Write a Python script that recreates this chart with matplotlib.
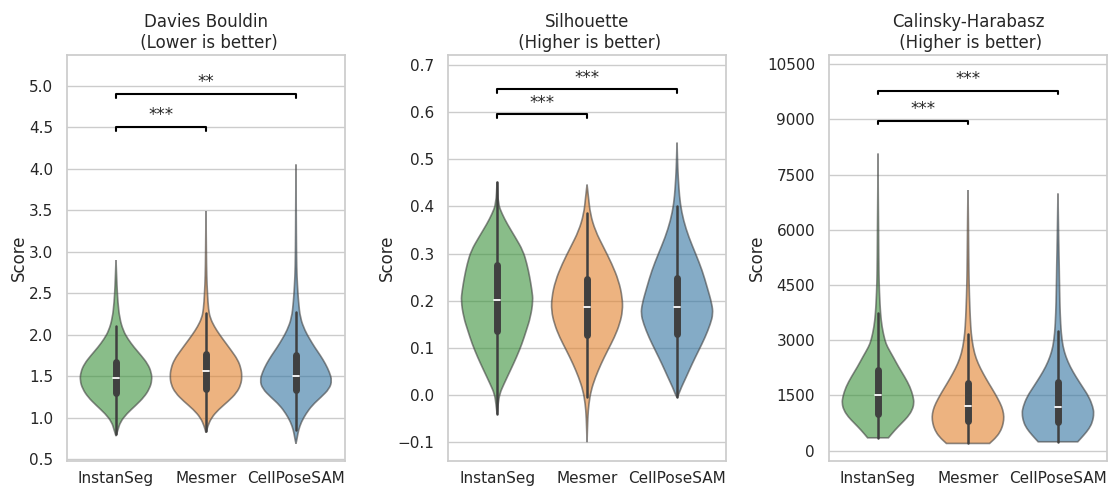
import numpy as np
import matplotlib.pyplot as plt
from matplotlib.path import Path
from matplotlib.patches import PathPatch
import seaborn as sns

sns.set_theme(style="whitegrid")
plt.rcParams["font.family"] = ["DejaVu Sans"]

methods = ["InstanSeg", "Mesmer", "CellPoseSAM"]
colors = ["#3a923a", "#e1812c", "#3274a1"]

# violin outlines: score levels and relative half-width (1 = widest point)
db_instanseg_y = [0.78, 0.85, 0.95, 1.05, 1.15, 1.25, 1.35, 1.45, 1.55, 1.65, 1.75, 1.85, 1.95, 2.05, 2.2, 2.4, 2.6, 2.9]
db_instanseg_w = [0.0, 0.05, 0.12, 0.30, 0.55, 0.78, 0.93, 1.0, 0.98, 0.88, 0.70, 0.50, 0.33, 0.20, 0.10, 0.05, 0.025, 0.0]
db_mesmer_y = [0.82, 0.9, 1.0, 1.1, 1.2, 1.3, 1.4, 1.5, 1.6, 1.7, 1.8, 1.9, 2.0, 2.1, 2.2, 2.3, 2.5, 2.7, 3.0, 3.49]
db_mesmer_w = [0.0, 0.05, 0.15, 0.35, 0.62, 0.85, 0.97, 1.0, 0.97, 0.88, 0.72, 0.55, 0.38, 0.23, 0.12, 0.07, 0.04, 0.02, 0.01, 0.0]
db_cellpose_y = [0.69, 0.75, 0.85, 0.95, 1.05, 1.15, 1.25, 1.35, 1.45, 1.55, 1.65, 1.75, 1.85, 1.95, 2.05, 2.2, 2.4, 2.6, 2.8, 3.2, 4.05]
db_cellpose_w = [0.0, 0.03, 0.07, 0.15, 0.28, 0.45, 0.70, 0.93, 1.0, 0.93, 0.82, 0.68, 0.52, 0.38, 0.25, 0.12, 0.07, 0.04, 0.02, 0.01, 0.0]

sil_instanseg_y = [-0.04, -0.019, 0.002, 0.023, 0.052, 0.08, 0.108, 0.136, 0.165, 0.2, 0.221, 0.249, 0.278, 0.306, 0.334, 0.363, 0.384, 0.405, 0.452]
sil_instanseg_w = [0.0, 0.03, 0.07, 0.19, 0.37, 0.54, 0.69, 0.81, 0.93, 1.0, 0.97, 0.91, 0.83, 0.72, 0.51, 0.28, 0.14, 0.03, 0.0]
sil_mesmer_y = [-0.1, -0.047, -0.019, 0.009, 0.037, 0.066, 0.094, 0.122, 0.151, 0.179, 0.207, 0.242, 0.278, 0.313, 0.348, 0.384, 0.419, 0.446]
sil_mesmer_w = [0.0, 0.02, 0.05, 0.11, 0.23, 0.39, 0.57, 0.76, 0.91, 0.99, 0.98, 0.88, 0.69, 0.46, 0.23, 0.09, 0.04, 0.0]
sil_cellpose_y = [-0.005, 0.002, 0.016, 0.037, 0.066, 0.094, 0.122, 0.151, 0.172, 0.193, 0.228, 0.264, 0.299, 0.334, 0.37, 0.405, 0.44, 0.48, 0.535]
sil_cellpose_w = [0.0, 0.05, 0.12, 0.25, 0.42, 0.60, 0.78, 0.93, 1.0, 0.97, 0.84, 0.70, 0.52, 0.33, 0.18, 0.09, 0.05, 0.02, 0.0]

ch_instanseg_y = [350, 559, 740, 921, 1102, 1283, 1464, 1735, 2007, 2278, 2550, 2821, 3000, 3364, 3726, 4088, 4541, 5265, 6170, 7075, 8070]
ch_instanseg_w = [0.29, 0.47, 0.65, 0.83, 0.95, 1.0, 0.98, 0.89, 0.74, 0.57, 0.42, 0.26, 0.19, 0.11, 0.07, 0.05, 0.03, 0.02, 0.014, 0.005, 0.0]
ch_mesmer_y = [197, 378, 559, 740, 921, 1102, 1283, 1554, 1826, 2097, 2369, 2640, 3002, 3364, 3907, 4541, 5265, 6170, 7075]
ch_mesmer_w = [0.60, 0.80, 0.92, 0.98, 1.0, 0.97, 0.90, 0.75, 0.58, 0.42, 0.28, 0.18, 0.11, 0.075, 0.05, 0.03, 0.02, 0.012, 0.0]
ch_cellpose_y = [242, 423, 604, 785, 1011, 1192, 1464, 1735, 2007, 2278, 2550, 2821, 3183, 3726, 4360, 4993, 5717, 6351, 6984]
ch_cellpose_w = [0.55, 0.72, 0.87, 0.96, 1.0, 0.97, 0.86, 0.68, 0.50, 0.34, 0.22, 0.14, 0.09, 0.06, 0.045, 0.035, 0.02, 0.01, 0.0]

# box summary: lower whisker, q1, median, q3, upper whisker
db_box = [[0.80, 1.30, 1.48, 1.67, 2.11],
          [0.84, 1.35, 1.56, 1.77, 2.26],
          [0.85, 1.33, 1.50, 1.76, 2.27]]
sil_box = [[-0.04, 0.135, 0.201, 0.276, 0.452],
           [-0.005, 0.127, 0.186, 0.246, 0.385],
           [-0.005, 0.129, 0.186, 0.248, 0.401]]
ch_box = [[350, 993, 1500, 2188, 3753],
          [197, 812, 1219, 1826, 3183],
          [242, 785, 1192, 1862, 3247]]

# significance brackets: (group a, group b, height, stars)
db_sig = [(0, 1, 4.5, "***"), (0, 2, 4.9, "**")]
sil_sig = [(0, 1, 0.595, "***"), (0, 2, 0.648, "***")]
ch_sig = [(0, 1, 8962, "***"), (0, 2, 9776, "***")]

titles = ["Davies Bouldin\n (Lower is better)",
          "Silhouette\n (Higher is better)",
          "Calinsky-Harabasz\n (Higher is better)"]
ylims = [(0.48, 5.37), (-0.14, 0.721), (-280, 10750)]
yticks = [np.arange(0.5, 5.01, 0.5), np.arange(-0.1, 0.71, 0.1), np.arange(0, 10501, 1500)]
tick_fmt = ["{:.1f}", "{:.1f}", "{:.0f}"]

panels = [
    ([(db_instanseg_y, db_instanseg_w), (db_mesmer_y, db_mesmer_w), (db_cellpose_y, db_cellpose_w)], db_box, db_sig),
    ([(sil_instanseg_y, sil_instanseg_w), (sil_mesmer_y, sil_mesmer_w), (sil_cellpose_y, sil_cellpose_w)], sil_box, sil_sig),
    ([(ch_instanseg_y, ch_instanseg_w), (ch_mesmer_y, ch_mesmer_w), (ch_cellpose_y, ch_cellpose_w)], ch_box, ch_sig),
]


def smooth_outline(pts):
    # quadratic curves through midpoints, keeps first and last point fixed
    verts = [pts[0], (pts[0] + pts[1]) / 2]
    codes = [Path.MOVETO, Path.LINETO]
    for j in range(1, len(pts) - 1):
        verts += [pts[j], (pts[j] + pts[j + 1]) / 2]
        codes += [Path.CURVE3, Path.CURVE3]
    verts.append(pts[-1])
    codes.append(Path.LINETO)
    return verts, codes


def violin(ax, x, ys, ws, color):
    ys = np.array(ys, dtype=float)
    ws = np.array(ws) * 0.4
    left = np.column_stack([x - ws, ys])
    right = np.column_stack([x + ws, ys])[::-1]
    v1, c1 = smooth_outline(left)
    v2, c2 = smooth_outline(right)
    c2[0] = Path.LINETO
    verts = v1 + v2 + [left[0]]
    codes = c1 + c2 + [Path.CLOSEPOLY]
    patch = PathPatch(Path(verts, codes), facecolor=color, alpha=0.6,
                      edgecolor="0.25", linewidth=1.2, zorder=2)
    ax.add_patch(patch)


fig = plt.figure(figsize=(11.09, 4.87), dpi=100)
lefts = [0.0604, 0.404, 0.7475]

for k, (shapes, boxes, sigs) in enumerate(panels):
    ax = fig.add_axes([lefts[k], 0.0534, 0.2507, 0.8337])
    ax.set_axisbelow(True)
    for i, (ys, ws) in enumerate(shapes):
        violin(ax, i, ys, ws, colors[i])
        lo, q1, med, q3, hi = boxes[i]
        ax.plot([i, i], [lo, hi], color="0.25", lw=1.8, solid_capstyle="round", zorder=3)
        ax.plot([i, i], [q1, q3], color="0.25", lw=5, solid_capstyle="round", zorder=3)
        ax.plot([i - 0.035, i + 0.035], [med, med], color="white", lw=1.3, zorder=4)

    span = ylims[k][1] - ylims[k][0]
    h = span * 0.009
    for a, b, y, stars in sigs:
        ax.plot([a, a, b, b], [y - h, y, y, y - h], color="black", lw=1.5, zorder=3)
        ax.annotate(stars, xy=((a + b) / 2, y), xytext=(0, 2), textcoords="offset points",
                    ha="center", va="bottom", fontsize=12, color="0.15")

    ax.set_xlim(-0.545, 2.545)
    ax.set_ylim(*ylims[k])
    ax.set_yticks(yticks[k])
    ax.set_yticklabels([tick_fmt[k].format(v).replace("-", "\u2212") for v in yticks[k]], fontsize=11)
    ax.set_xticks(range(3))
    ax.set_xticklabels(methods, fontsize=11)
    ax.tick_params(axis="x", pad=1)
    ax.tick_params(axis="y", pad=4)
    ax.xaxis.grid(False)
    ax.set_ylabel("Score", fontsize=12, labelpad=1)
    ax.set_title(titles[k], fontsize=12, pad=5)

fig.savefig("out.png", dpi=100)
